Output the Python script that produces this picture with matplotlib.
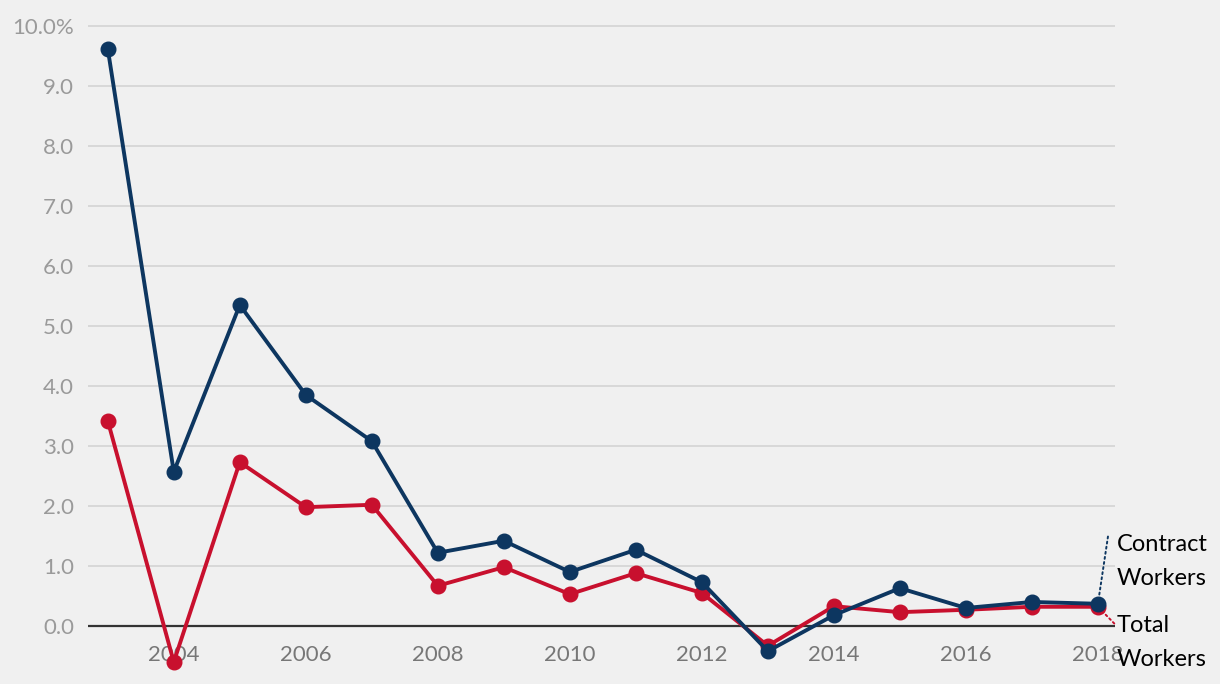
import matplotlib.pyplot as plt

years = list(range(2003, 2019))
contract = [9.62, 2.57, 5.35, 3.85, 3.08, 1.22, 1.42, 0.90, 1.27, 0.73,
            -0.42, 0.18, 0.63, 0.30, 0.40, 0.37]
total = [3.42, -0.60, 2.73, 1.98, 2.02, 0.67, 0.98, 0.53, 0.88, 0.55,
         -0.33, 0.33, 0.23, 0.27, 0.32, 0.32]
yticks = [0, 1, 2, 3, 4, 5, 6, 7, 8, 9, 10]
ytick_labels = ['0.0', '1.0', '2.0', '3.0', '4.0', '5.0', '6.0', '7.0', '8.0', '9.0', '10.0%']
xticks = list(range(2004, 2019, 2))

navy = '#0d3660'
red = '#c8102e'
bg = '#f0f0f0'

plt.rcParams['font.family'] = ['Lato', 'DejaVu Sans']

fig = plt.figure(figsize=(12.2, 6.84), dpi=100, facecolor=bg)
ax = fig.add_axes([0.0721, 0.0629, 0.8419, 0.9079])
ax.set_facecolor(bg)

ax.plot(years, total, color=red, lw=2.8, marker='o', ms=10.5, clip_on=False, zorder=3)
ax.plot(years, contract, color=navy, lw=2.8, marker='o', ms=10.5, clip_on=False, zorder=4)

ax.set_xlim(2002.7, 2018.26)
ax.set_ylim(-0.25, 10.1)
ax.set_yticks(yticks)
ax.set_yticklabels(ytick_labels)
ax.set_xticks(xticks)
ax.grid(axis='y', color='#d6d6d6', lw=1.3)
ax.axhline(0, color='#333333', lw=1.6, zorder=2)
ax.set_axisbelow(True)
for s in ax.spines.values():
    s.set_visible(False)
ax.tick_params(axis='y', length=0, pad=10, labelsize=16, labelcolor='#9a9a9a')
ax.tick_params(axis='x', length=0, pad=3, labelsize=16, labelcolor='#777777')

# end labels
ax.annotate('Contract\nWorkers', xy=(years[-1], contract[-1]), xytext=(2018.29, 1.08),
            fontsize=17, color='black', va='center', ha='left', linespacing=1.75,
            annotation_clip=False,
            arrowprops=dict(arrowstyle='-', color=navy, ls=':', lw=1.4,
                            shrinkA=0, shrinkB=5, relpos=(-0.1, 0.95)))
ax.annotate('Total\nWorkers', xy=(years[-1], total[-1]), xytext=(2018.29, -0.28),
            fontsize=17, color='black', va='center', ha='left', linespacing=1.75,
            annotation_clip=False,
            arrowprops=dict(arrowstyle='-', color=red, ls=':', lw=1.4,
                            shrinkA=0, shrinkB=5, relpos=(0, 0.8)))

fig.savefig('out.png', dpi=100, facecolor=bg)
